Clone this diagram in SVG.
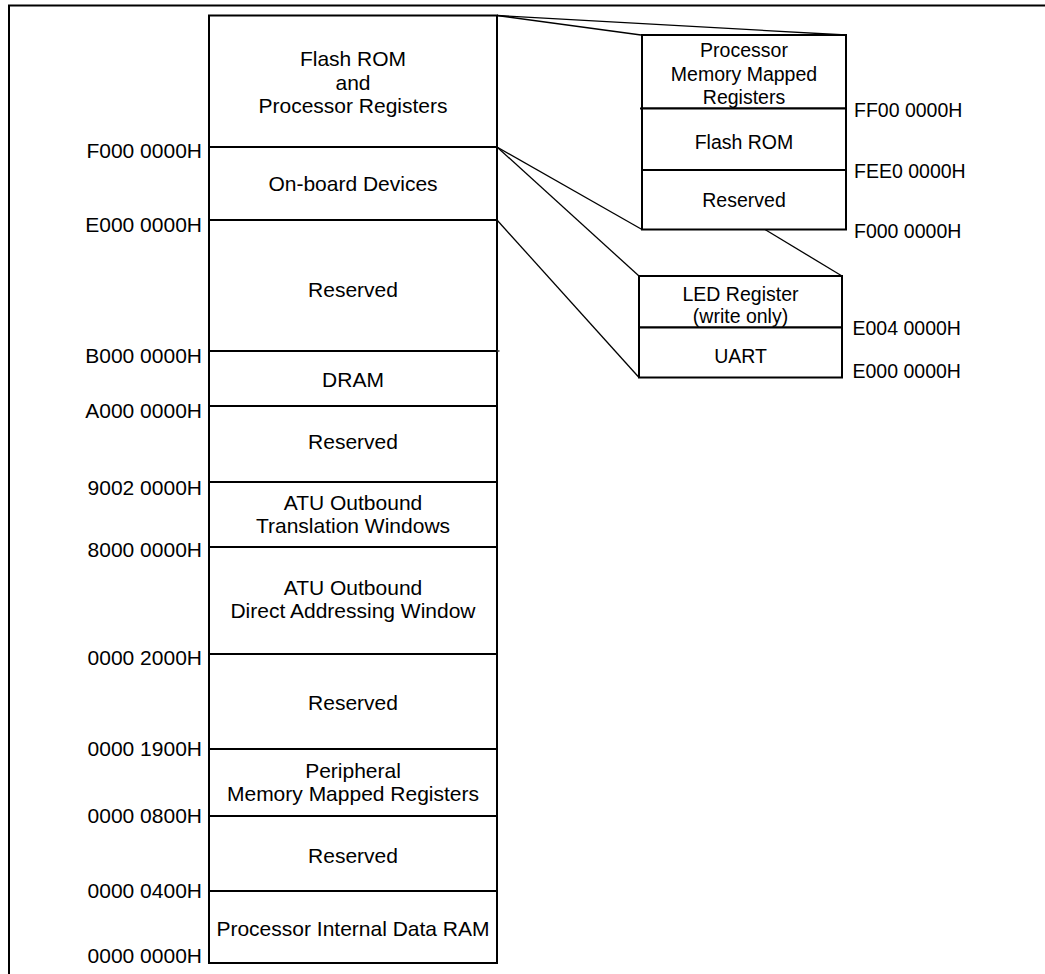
<svg xmlns="http://www.w3.org/2000/svg" width="1045" height="974" viewBox="0 0 1045 974">
<style>
.seg{fill:#fff;stroke:#000;stroke-width:2}
.t{font-family:"Liberation Sans",Arial,sans-serif;font-size:21px;fill:#000;text-anchor:middle}
.a{font-family:"Liberation Sans",Arial,sans-serif;font-size:21px;fill:#000;text-anchor:end}
.ts{font-family:"Liberation Sans",Arial,sans-serif;font-size:19.5px;fill:#000;text-anchor:middle}
.as{font-family:"Liberation Sans",Arial,sans-serif;font-size:19.5px;fill:#000;text-anchor:start}
.c{stroke:#000;stroke-width:1.3;fill:none}
</style>
<rect width="1045" height="974" fill="#fff"/>
<rect x="9" y="5.5" width="1100" height="1100" fill="none" stroke="#000" stroke-width="2"/>

<g id="connectors">
<line class="c" x1="497" y1="15.5" x2="641" y2="35"/>
<line class="c" x1="497" y1="15.5" x2="846" y2="35"/>
<line class="c" x1="497" y1="147" x2="642" y2="229.5"/>
<line class="c" x1="497" y1="147" x2="639" y2="276"/>
<line class="c" x1="497" y1="220" x2="639" y2="377.5"/>
<line class="c" x1="765" y1="229.5" x2="842" y2="276"/>
</g>

<g id="main-map">
<g id="flash-proc"><rect class="seg" x="209" y="15.5" width="288" height="131.5"/>
<text class="t" x="353" y="66">Flash ROM</text><text class="t" x="353" y="89.5">and</text><text class="t" x="353" y="113">Processor Registers</text></g>
<g id="onboard"><rect class="seg" x="209" y="147" width="288" height="73"/>
<text class="t" x="353" y="190.5">On-board Devices</text></g>
<g id="reserved1"><rect class="seg" x="209" y="220" width="288" height="131"/>
<text class="t" x="353" y="296.5">Reserved</text></g>
<g id="dram"><rect class="seg" x="209" y="351" width="288" height="55"/>
<line x1="497" y1="351" x2="499.5" y2="351" stroke="#333" stroke-width="1.5"/>
<text class="t" x="353" y="386.5">DRAM</text></g>
<g id="reserved2"><rect class="seg" x="209" y="406" width="288" height="76"/>
<text class="t" x="353" y="449">Reserved</text></g>
<g id="atu-trans"><rect class="seg" x="209" y="482" width="288" height="65"/>
<text class="t" x="353" y="510">ATU Outbound</text><text class="t" x="353" y="533">Translation Windows</text></g>
<g id="atu-direct"><rect class="seg" x="209" y="547" width="288" height="107"/>
<text class="t" x="353" y="595">ATU Outbound</text><text class="t" x="353" y="618">Direct Addressing Window</text></g>
<g id="reserved3"><rect class="seg" x="209" y="654" width="288" height="95"/>
<text class="t" x="353" y="710">Reserved</text></g>
<g id="periph"><rect class="seg" x="209" y="749" width="288" height="67"/>
<text class="t" x="353" y="778">Peripheral</text><text class="t" x="353" y="801">Memory Mapped Registers</text></g>
<g id="reserved4"><rect class="seg" x="209" y="816" width="288" height="75"/>
<text class="t" x="353" y="862.5">Reserved</text></g>
<g id="dataram"><rect class="seg" x="209" y="891" width="288" height="72"/>
<text class="t" x="353" y="936">Processor Internal Data RAM</text></g>
</g>

<g id="main-labels">
<text class="a" x="202" y="158">F000 0000H</text>
<text class="a" x="202" y="232">E000 0000H</text>
<text class="a" x="202" y="363">B000 0000H</text>
<text class="a" x="202" y="417.5">A000 0000H</text>
<text class="a" x="202" y="495">9002 0000H</text>
<text class="a" x="202" y="556.5">8000 0000H</text>
<text class="a" x="202" y="665">0000 2000H</text>
<text class="a" x="202" y="756">0000 1900H</text>
<text class="a" x="202" y="822.5">0000 0800H</text>
<text class="a" x="202" y="897.5">0000 0400H</text>
<text class="a" x="202" y="963">0000 0000H</text>
</g>

<g id="flash-detail">
<g id="proc-mmr"><rect class="seg" x="642" y="35" width="204" height="73.5"/>
<line x1="640" y1="108.5" x2="642" y2="108.5" stroke="#000" stroke-width="2"/>
<text class="ts" x="744" y="56.5">Processor</text><text class="ts" x="744" y="80.5">Memory Mapped</text><text class="ts" x="744" y="104">Registers</text></g>
<g id="flash-rom"><rect class="seg" x="642" y="108.5" width="204" height="61.5"/>
<text class="ts" x="744" y="148.5">Flash ROM</text></g>
<g id="reserved-f"><rect class="seg" x="642" y="170" width="204" height="59.5"/>
<text class="ts" x="744" y="207">Reserved</text></g>
<text class="as" x="854" y="116.5">FF00 0000H</text>
<text class="as" x="854" y="178">FEE0 0000H</text>
<text class="as" x="854" y="237.5">F000 0000H</text>
</g>

<g id="onboard-detail">
<g id="led"><rect class="seg" x="639" y="276" width="203" height="51.5"/>
<text class="ts" x="740.5" y="301">LED Register</text><text class="ts" x="740.5" y="322.5">(write only)</text></g>
<g id="uart"><rect class="seg" x="639" y="327.5" width="203" height="50"/>
<text class="ts" x="740.5" y="362.5">UART</text></g>
<text class="as" x="852.5" y="335">E004 0000H</text>
<text class="as" x="852.5" y="377.5">E000 0000H</text>
</g>
</svg>
